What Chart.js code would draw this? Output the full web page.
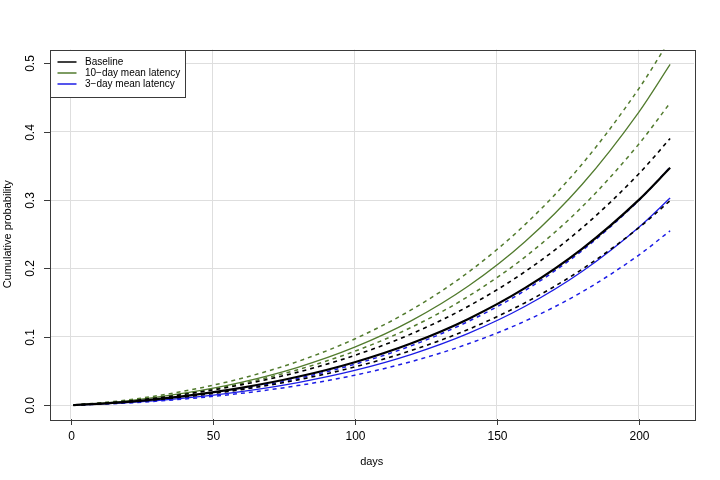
<!DOCTYPE html>
<html>
<head>
<meta charset="utf-8">
<script src="https://cdn.jsdelivr.net/npm/chart.js@4.4.1/dist/chart.umd.min.js"></script>
<style>
  html, body { margin: 0; padding: 0; background: #ffffff; }
  #wrap { width: 720px; height: 480px; position: relative; }
</style>
</head>
<body>
<div id="wrap"><canvas id="c" width="720" height="480"></canvas></div>
<script>
// ---- data ----
const days = [1, 20, 40, 60, 80, 100, 120, 140, 160, 180, 200, 211];

const baseline      = [0.0001, 0.0051, 0.0135, 0.0255, 0.0417, 0.063, 0.0907, 0.1263, 0.1716, 0.2287, 0.3003, 0.3471];
const baselineUpper = [0.0001, 0.0060, 0.0160, 0.0299, 0.0485, 0.073, 0.1045, 0.1448, 0.1955, 0.2592, 0.3384, 0.3899];
const baselineLower = [0.0001, 0.0046, 0.0122, 0.0229, 0.0372, 0.056, 0.0802, 0.1110, 0.1500, 0.1988, 0.2596, 0.2991];

const lat10      = [0.0002, 0.0066, 0.0177, 0.0336, 0.0556, 0.085, 0.1238, 0.1743, 0.2394, 0.3227, 0.4286, 0.4983];
const lat10Upper = [0.0002, 0.0078, 0.0208, 0.0392, 0.0641, 0.097, 0.1397, 0.1946, 0.2644, 0.3524, 0.4629, 0.5350];
const lat10Lower = [0.0002, 0.0063, 0.0168, 0.0318, 0.0521, 0.079, 0.1141, 0.1593, 0.2170, 0.2900, 0.3819, 0.4420];

const lat3      = [0.0001, 0.0039, 0.0105, 0.0201, 0.0333, 0.051, 0.0745, 0.1051, 0.1447, 0.1955, 0.2602, 0.3030];
const lat3Upper = [0.0001, 0.0047, 0.0125, 0.0238, 0.0393, 0.060, 0.0872, 0.1226, 0.1680, 0.2260, 0.2995, 0.3479];
const lat3Lower = [0.0001, 0.0034, 0.0092, 0.0175, 0.0288, 0.044, 0.0640, 0.0899, 0.1232, 0.1657, 0.2196, 0.2551];

const xTicks = [0, 50, 100, 150, 200];
const yTicks = [0.0, 0.1, 0.2, 0.3, 0.4, 0.5];
const yTickLabels = ["0.0", "0.1", "0.2", "0.3", "0.4", "0.5"];
const legendLabels = ["Baseline", "10\u2212day mean latency", "3\u2212day mean latency"];
const xTitle = "days";
const yTitle = "Cumulative probability";

// ---- styling ----
const GREEN = "#527b2e";
const BLUE = "#1c1ce6";
const BLACK = "#000000";
const FONT = "'Liberation Sans', Arial, Helvetica, sans-serif";

function toPts(vals) { return days.map((d, i) => ({ x: d, y: vals[i] })); }

function ds(vals, color, width, dashed) {
  return {
    data: toPts(vals),
    borderColor: color,
    borderWidth: width,
    borderDash: dashed ? [4, 4] : [],
    pointRadius: 0,
    fill: false,
    cubicInterpolationMode: 'monotone',
    clip: 0
  };
}

const rPlugin = {
  id: 'rstyle',
  afterDraw(chart) {
    const ctx = chart.ctx;
    const a = chart.chartArea;
    const xs = chart.scales.x, ys = chart.scales.y;
    ctx.save();
    // box
    ctx.strokeStyle = "#3a3a3a";
    ctx.lineWidth = 1;
    ctx.setLineDash([]);
    ctx.strokeRect(Math.round(a.left) + 0.5, Math.round(a.top) + 0.5,
                   Math.round(a.right - a.left), Math.round(a.bottom - a.top));
    // x ticks
    ctx.fillStyle = "#000";
    ctx.font = "12px " + FONT;
    ctx.textAlign = "center";
    ctx.textBaseline = "middle";
    xTicks.forEach(v => {
      const px = Math.round(xs.getPixelForValue(v)) + 0.5;
      ctx.beginPath();
      ctx.moveTo(px, Math.round(a.bottom));
      ctx.lineTo(px, Math.round(a.bottom) + 6);
      ctx.stroke();
      ctx.fillText(String(v), px, a.bottom + 18);
    });
    // y ticks
    yTicks.forEach((v, i) => {
      const py = Math.round(ys.getPixelForValue(v)) + 0.5;
      ctx.beginPath();
      ctx.moveTo(Math.round(a.left), py);
      ctx.lineTo(Math.round(a.left) - 6, py);
      ctx.stroke();
      ctx.save();
      ctx.translate(a.left - 19, py);
      ctx.rotate(-Math.PI / 2);
      ctx.fillText(yTickLabels[i], 0, 0);
      ctx.restore();
    });
    // axis titles
    ctx.font = "11px " + FONT;
    ctx.fillText(xTitle, (a.left + a.right) / 2, a.bottom + 43);
    ctx.save();
    ctx.translate(8, (a.top + a.bottom) / 2);
    ctx.rotate(-Math.PI / 2);
    ctx.fillText(yTitle, 0, 0);
    ctx.restore();
    // legend
    const lx = Math.round(a.left) + 0.5, ly = Math.round(a.top) + 0.5;
    const lw = 135, lh = 47;
    ctx.fillStyle = "#fff";
    ctx.fillRect(lx, ly, lw, lh);
    ctx.strokeStyle = "#3a3a3a";
    ctx.lineWidth = 1;
    ctx.strokeRect(lx, ly, lw, lh);
    const cols = [BLACK, GREEN, BLUE];
    ctx.textAlign = "left";
    ctx.font = "10px " + FONT;
    legendLabels.forEach((t, i) => {
      const y = a.top + 12.5 + i * 11;
      ctx.strokeStyle = cols[i];
      ctx.lineWidth = 1.5;
      ctx.beginPath();
      ctx.moveTo(a.left + 8, y);
      ctx.lineTo(a.left + 27, y);
      ctx.stroke();
      ctx.fillStyle = "#000";
      ctx.fillText(t, a.left + 35.5, y);
    });
    ctx.restore();
  }
};

new Chart(document.getElementById('c'), {
  type: 'line',
  data: {
    datasets: [
      ds(baselineUpper, BLACK, 1.6, true),
      ds(baselineLower, BLACK, 1.6, true),
      ds(baseline, BLACK, 2.2, false),
      ds(lat10Upper, GREEN, 1.5, true),
      ds(lat10Lower, GREEN, 1.5, true),
      ds(lat10, GREEN, 1.3, false),
      ds(lat3Upper, BLUE, 1.5, true),
      ds(lat3Lower, BLUE, 1.5, true),
      ds(lat3, BLUE, 1.3, false)
    ]
  },
  options: {
    responsive: false,
    animation: false,
    devicePixelRatio: 1,
    layout: { padding: { left: 0, top: 49.5, right: 26, bottom: 0 } },
    plugins: { legend: { display: false }, tooltip: { enabled: false }, title: { display: false } },
    scales: {
      x: {
        type: 'linear',
        min: -7.4, max: 219.4,
        afterFit: s => { s.height = 61; },
        afterBuildTicks: s => { s.ticks = xTicks.map(v => ({ value: v })); },
        ticks: { display: false },
        grid: { color: '#dedede', lineWidth: 1, drawTicks: false },
        border: { display: false }
      },
      y: {
        type: 'linear',
        min: -0.02, max: 0.52,
        afterFit: s => { s.width = 49.5; },
        afterBuildTicks: s => { s.ticks = yTicks.map(v => ({ value: v })); },
        ticks: { display: false },
        grid: { color: '#dedede', lineWidth: 1, drawTicks: false },
        border: { display: false }
      }
    }
  },
  plugins: [rPlugin]
});
</script>
</body>
</html>
